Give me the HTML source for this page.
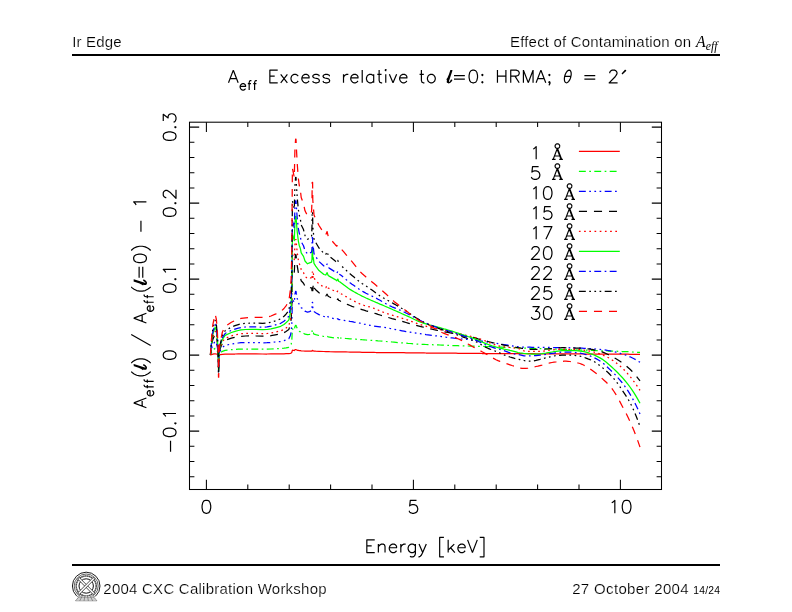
<!DOCTYPE html>
<html><head><meta charset="utf-8"><title>Ir Edge</title>
<style>
html,body{margin:0;padding:0;background:#fff;}
body{width:792px;height:612px;position:relative;overflow:hidden;font-family:"Liberation Sans",sans-serif;color:#000;}
.t{position:absolute;white-space:nowrap;line-height:1;}
.hl{position:absolute;left:72px;width:648px;height:2px;background:#000;}
</style></head><body>
<div class="hl" style="top:54.1px;"></div>
<div class="hl" style="top:564px;"></div>
<svg width="792" height="612" viewBox="0 0 792 612" style="position:absolute;left:0;top:0"><rect x="189.5" y="122.2" width="472.0" height="367.3" fill="none" stroke="#000" stroke-width="1.05"/>
<path d="M206.40 489.5V479.80M206.40 122.2V131.90M247.80 489.5V484.60M247.80 122.2V127.10M289.20 489.5V484.60M289.20 122.2V127.10M330.60 489.5V484.60M330.60 122.2V127.10M372.00 489.5V484.60M372.00 122.2V127.10M413.40 489.5V479.80M413.40 122.2V131.90M454.80 489.5V484.60M454.80 122.2V127.10M496.20 489.5V484.60M496.20 122.2V127.10M537.60 489.5V484.60M537.60 122.2V127.10M579.00 489.5V484.60M579.00 122.2V127.10M620.40 489.5V479.80M620.40 122.2V131.90M189.5 476.70H194.40M661.5 476.70H656.60M189.5 461.50H194.40M661.5 461.50H656.60M189.5 446.30H194.40M661.5 446.30H656.60M189.5 431.10H199.20M661.5 431.10H651.80M189.5 415.90H194.40M661.5 415.90H656.60M189.5 400.70H194.40M661.5 400.70H656.60M189.5 385.50H194.40M661.5 385.50H656.60M189.5 370.30H194.40M661.5 370.30H656.60M189.5 355.10H199.20M661.5 355.10H651.80M189.5 339.90H194.40M661.5 339.90H656.60M189.5 324.70H194.40M661.5 324.70H656.60M189.5 309.50H194.40M661.5 309.50H656.60M189.5 294.30H194.40M661.5 294.30H656.60M189.5 279.10H199.20M661.5 279.10H651.80M189.5 263.90H194.40M661.5 263.90H656.60M189.5 248.70H194.40M661.5 248.70H656.60M189.5 233.50H194.40M661.5 233.50H656.60M189.5 218.30H194.40M661.5 218.30H656.60M189.5 203.10H199.20M661.5 203.10H651.80M189.5 187.90H194.40M661.5 187.90H656.60M189.5 172.70H194.40M661.5 172.70H656.60M189.5 157.50H194.40M661.5 157.50H656.60M189.5 142.30H194.40M661.5 142.30H656.60M189.5 127.10H199.20M661.5 127.10H651.80" fill="none" stroke="#000" stroke-width="1.05"/>
<path transform="translate(206.40 513.30)" d="M-3.87 -3.25L-4.33 -5.42L-4.33 -7.58L-3.71 -10.53L-2.48 -12.38L-0.62 -13.00L0.62 -13.00L2.48 -12.38L3.71 -10.53L4.33 -7.58L4.33 -5.42L3.71 -2.63L2.48 -0.62L0.62 -0.00L-0.62 -0.00L-2.32 -0.62L-2.48 -0.62L-3.71 -2.32L-3.87 -3.25" fill="none" stroke="#000" stroke-width="1.2" stroke-linecap="butt" stroke-linejoin="round"/>
<path transform="translate(413.40 513.30)" d="M3.10 -13.00L-3.10 -13.00L-3.71 -7.43L-3.10 -8.05L-1.24 -8.67L0.62 -8.67L2.48 -8.05L3.71 -6.81L4.33 -4.95L4.33 -3.71L3.71 -1.86L2.32 -0.62L0.62 -0.00L-1.24 -0.00L-3.10 -0.62L-3.71 -1.24L-4.33 -2.48" fill="none" stroke="#000" stroke-width="1.2" stroke-linecap="butt" stroke-linejoin="round"/>
<path transform="translate(620.40 513.30)" d="M-5.57 -0.00L-5.57 -13.00L-7.43 -11.14L-8.67 -10.53M2.32 -3.25L1.86 -5.42L1.86 -7.58L2.48 -10.53L3.71 -12.38L5.57 -13.00L6.81 -13.00L8.67 -12.38L9.91 -10.53L10.53 -7.58L10.53 -5.42L9.91 -2.63L8.67 -0.62L6.81 -0.00L5.57 -0.00L3.87 -0.62L3.71 -0.62L2.48 -2.32L2.32 -3.25" fill="none" stroke="#000" stroke-width="1.2" stroke-linecap="butt" stroke-linejoin="round"/>
<path transform="translate(176.00 127.10) rotate(-90)" d="M-12.90 -3.19L-13.35 -5.31L-13.35 -7.44L-12.75 -10.32L-11.53 -12.14L-9.71 -12.75L-8.50 -12.75L-6.68 -12.14L-5.46 -10.32L-4.86 -7.44L-4.86 -5.31L-5.46 -2.58L-6.68 -0.61L-8.50 -0.00L-9.71 -0.00L-11.38 -0.61L-11.53 -0.61L-12.75 -2.28L-12.90 -3.19M0.61 -0.61L0.00 -1.21L-0.61 -0.61L0.00 -0.00L0.61 -0.61M6.07 -12.75L12.75 -12.75L9.11 -7.89L10.93 -7.89L12.14 -7.28L12.75 -6.68L13.35 -4.86L13.35 -3.64L12.75 -1.82L11.53 -0.61L9.71 -0.00L7.89 -0.00L6.22 -0.61L5.46 -1.21L4.86 -2.43" fill="none" stroke="#000" stroke-width="1.2" stroke-linecap="butt" stroke-linejoin="round"/>
<path transform="translate(176.00 203.10) rotate(-90)" d="M-12.90 -3.19L-13.35 -5.31L-13.35 -7.44L-12.75 -10.32L-11.53 -12.14L-9.71 -12.75L-8.50 -12.75L-6.68 -12.14L-5.46 -10.32L-4.86 -7.44L-4.86 -5.31L-5.46 -2.58L-6.68 -0.61L-8.50 -0.00L-9.71 -0.00L-11.38 -0.61L-11.53 -0.61L-12.75 -2.28L-12.90 -3.19M0.61 -0.61L0.00 -1.21L-0.61 -0.61L0.00 -0.00L0.61 -0.61M5.46 -9.71L5.46 -10.32L6.07 -11.53L6.68 -12.14L7.89 -12.75L10.32 -12.75L11.53 -12.14L12.14 -11.53L12.75 -10.32L12.75 -9.11L12.14 -7.89L10.93 -6.07L4.86 -0.00L13.35 -0.00" fill="none" stroke="#000" stroke-width="1.2" stroke-linecap="butt" stroke-linejoin="round"/>
<path transform="translate(176.00 279.10) rotate(-90)" d="M-12.90 -3.19L-13.35 -5.31L-13.35 -7.44L-12.75 -10.32L-11.53 -12.14L-9.71 -12.75L-8.50 -12.75L-6.68 -12.14L-5.46 -10.32L-4.86 -7.44L-4.86 -5.31L-5.46 -2.58L-6.68 -0.61L-8.50 -0.00L-9.71 -0.00L-11.38 -0.61L-11.53 -0.61L-12.75 -2.28L-12.90 -3.19M0.61 -0.61L0.00 -1.21L-0.61 -0.61L0.00 -0.00L0.61 -0.61M9.71 -0.00L9.71 -12.75L7.89 -10.93L6.68 -10.32" fill="none" stroke="#000" stroke-width="1.2" stroke-linecap="butt" stroke-linejoin="round"/>
<path transform="translate(176.00 355.10) rotate(-90)" d="M-3.79 -3.19L-4.25 -5.31L-4.25 -7.44L-3.64 -10.32L-2.43 -12.14L-0.61 -12.75L0.61 -12.75L2.43 -12.14L3.64 -10.32L4.25 -7.44L4.25 -5.31L3.64 -2.58L2.43 -0.61L0.61 -0.00L-0.61 -0.00L-2.28 -0.61L-2.43 -0.61L-3.64 -2.28L-3.79 -3.19" fill="none" stroke="#000" stroke-width="1.2" stroke-linecap="butt" stroke-linejoin="round"/>
<path transform="translate(176.00 431.10) rotate(-90)" d="M-20.64 -5.46L-9.71 -5.46M-5.01 -3.19L-5.46 -5.31L-5.46 -7.44L-4.86 -10.32L-3.64 -12.14L-1.82 -12.75L-0.61 -12.75L1.21 -12.14L2.43 -10.32L3.03 -7.44L3.03 -5.31L2.43 -2.58L1.21 -0.61L-0.61 -0.00L-1.82 -0.00L-3.49 -0.61L-3.64 -0.61L-4.86 -2.28L-5.01 -3.19M8.50 -0.61L7.89 -1.21L7.28 -0.61L7.89 -0.00L8.50 -0.61M17.60 -0.00L17.60 -12.75L15.78 -10.93L14.57 -10.32" fill="none" stroke="#000" stroke-width="1.2" stroke-linecap="butt" stroke-linejoin="round"/>
<path transform="translate(364.40 552.60)" d="M7.28 -6.68L2.43 -6.68L2.43 -12.75L10.32 -12.75M2.43 -6.68L2.43 -0.00L10.32 -0.00M20.64 -0.00L20.64 -6.07L20.03 -7.89L18.82 -8.50L17.00 -8.50L15.78 -7.89L13.96 -6.07L13.96 -0.00M13.96 -8.50L13.96 -6.07M32.17 -1.82L30.96 -0.61L29.74 -0.00L27.92 -0.00L26.71 -0.61L25.49 -1.97L24.89 -3.64L24.89 -4.86L25.49 -6.68L26.71 -7.89L27.92 -8.50L29.74 -8.50L30.96 -7.89L31.56 -7.28L32.17 -6.07L32.17 -4.86L24.89 -4.86M36.42 -8.50L36.42 -0.00M36.42 -5.01L37.03 -6.68L38.24 -7.89L39.45 -8.50L41.28 -8.50M50.99 -6.68L49.77 -7.89L48.56 -8.50L46.74 -8.50L45.52 -7.89L44.31 -6.68L43.70 -4.86L43.70 -3.64L44.31 -1.82L45.52 -0.61L46.74 -0.00L48.56 -0.00L49.77 -0.61L50.99 -1.82M50.99 -8.50L50.99 1.21L50.38 2.88L49.77 3.64L48.56 4.25L46.74 4.25L45.52 3.64M54.63 -8.50L58.27 -0.00L57.06 2.43L55.84 3.64L54.63 4.25L54.02 4.25M61.91 -8.50L58.27 -0.15M79.52 4.25L75.27 4.25L75.27 -15.17L79.52 -15.17M83.77 -2.43L83.77 -12.75M90.44 -0.00L86.19 -4.86L89.84 -8.50M86.19 -4.86L83.77 -2.43L83.77 -0.00M100.76 -1.82L99.55 -0.61L98.33 -0.00L96.51 -0.00L95.30 -0.61L94.09 -1.97L93.48 -3.64L93.48 -4.86L94.09 -6.68L95.30 -7.89L96.51 -8.50L98.33 -8.50L99.55 -7.89L100.16 -7.28L100.76 -6.07L100.76 -4.86L93.48 -4.86M103.19 -12.75L108.05 -0.00M112.90 -12.75L108.05 -0.15M115.33 4.25L119.58 4.25L119.58 -15.17L115.33 -15.17" fill="none" stroke="#000" stroke-width="1.2" stroke-linecap="butt" stroke-linejoin="round"/>
<path transform="translate(146.40 408.30) rotate(-90)" d="M0.61 -0.00L5.46 -12.75M5.46 -12.60L10.32 -0.00M8.50 -4.25L2.43 -4.25M17.75 5.92L16.84 6.83L15.93 7.28L14.57 7.28L13.66 6.83L12.75 5.80L12.29 4.55L12.29 3.64L12.75 2.28L13.66 1.37L14.57 0.91L15.93 0.91L16.84 1.37L17.30 1.82L17.75 2.73L17.75 3.64L12.29 3.64M21.40 7.28L21.40 0.91M23.67 -2.28L22.76 -2.28L21.85 -1.71L21.40 -0.46L21.40 0.91M20.03 0.91L23.22 0.91M26.86 7.28L26.86 0.91M29.14 -2.28L28.23 -2.28L27.32 -1.71L26.86 -0.46L26.86 0.91M25.49 0.91L28.68 0.91M36.72 -15.17L35.51 -13.96L34.30 -12.29L33.08 -9.71L32.47 -6.83L32.47 -4.10L33.08 -1.21L34.30 1.21L35.51 3.04L36.72 4.25M42.79 -12.75L39.15 -1.82L39.15 -0.61L40.37 -0.00L41.58 -0.61L42.19 -1.21L43.40 -3.04M40.21 -0.15L39.76 -0.61L39.76 -1.82L43.40 -12.75M40.82 -6.98L39.76 -4.86L38.54 -3.04M43.22 -12.75L39.58 -1.82L39.58 -0.61L40.79 -0.00L42.00 -0.61L42.61 -1.21L43.83 -3.04M40.64 -0.15L40.18 -0.61L40.18 -1.82L43.83 -12.75M45.22 -15.17L46.44 -13.96L47.65 -12.29L48.86 -9.71L49.47 -6.83L49.47 -4.10L48.86 -1.21L47.65 1.21L46.44 3.04L45.22 4.25M73.75 -15.17L62.82 4.25M85.28 -0.00L90.14 -12.75M90.14 -12.60L95.00 -0.00M93.17 -4.25L87.10 -4.25M102.43 5.92L101.52 6.83L100.61 7.28L99.24 7.28L98.33 6.83L97.42 5.80L96.97 4.55L96.97 3.64L97.42 2.28L98.33 1.37L99.24 0.91L100.61 0.91L101.52 1.37L101.98 1.82L102.43 2.73L102.43 3.64L96.97 3.64M106.07 7.28L106.07 0.91M108.35 -2.28L107.44 -2.28L106.53 -1.71L106.07 -0.46L106.07 0.91M104.71 0.91L107.89 0.91M111.54 7.28L111.54 0.91M113.81 -2.28L112.90 -2.28L111.99 -1.71L111.54 -0.46L111.54 0.91M110.17 0.91L113.36 0.91M121.40 -15.17L120.19 -13.96L118.97 -12.29L117.76 -9.71L117.15 -6.83L117.15 -4.10L117.76 -1.21L118.97 1.21L120.19 3.04L121.40 4.25M127.47 -12.75L123.83 -1.82L123.83 -0.61L125.04 -0.00L126.26 -0.61L126.86 -1.21L128.08 -3.04M124.89 -0.15L124.44 -0.61L124.44 -1.82L128.08 -12.75M125.50 -6.98L124.44 -4.86L123.22 -3.04M127.89 -12.75L124.25 -1.82L124.25 -0.61L125.47 -0.00L126.68 -0.61L127.29 -1.21L128.50 -3.04M125.32 -0.15L124.86 -0.61L124.86 -1.82L128.50 -12.75M130.50 -3.64L141.43 -3.64M141.43 -7.28L130.50 -7.28M146.14 -3.19L145.68 -5.31L145.68 -7.44L146.29 -10.32L147.50 -12.14L149.32 -12.75L150.54 -12.75L152.36 -12.14L153.57 -10.32L154.18 -7.44L154.18 -5.31L153.57 -2.58L152.36 -0.61L150.54 -0.00L149.32 -0.00L147.65 -0.61L147.50 -0.61L146.29 -2.28L146.14 -3.19M157.82 -15.17L159.03 -13.96L160.25 -12.29L161.46 -9.71L162.07 -6.83L162.07 -4.10L161.46 -1.21L160.25 1.21L159.03 3.04L157.82 4.25M176.64 -5.46L187.56 -5.46M206.38 -0.00L206.38 -12.75L204.56 -10.93L203.34 -10.32" fill="none" stroke="#000" stroke-width="1.2" stroke-linecap="butt" stroke-linejoin="round"/>
<path transform="translate(227.90 82.80)" d="M0.60 -0.00L5.43 -12.68M5.43 -12.53L10.26 -0.00M8.45 -4.23L2.41 -4.23M17.66 5.89L16.75 6.79L15.85 7.24L14.49 7.24L13.58 6.79L12.68 5.77L12.22 4.53L12.22 3.62L12.68 2.26L13.58 1.36L14.49 0.91L15.85 0.91L16.75 1.36L17.21 1.81L17.66 2.72L17.66 3.62L12.22 3.62M21.28 7.24L21.28 0.91M23.54 -2.26L22.64 -2.26L21.73 -1.70L21.28 -0.45L21.28 0.91M19.92 0.91L23.09 0.91M26.71 7.24L26.71 0.91M28.98 -2.26L28.07 -2.26L27.17 -1.70L26.71 -0.45L26.71 0.91M25.36 0.91L28.52 0.91M46.79 -6.64L41.96 -6.64L41.96 -12.68L49.81 -12.68M41.96 -6.64L41.96 -0.00L49.81 -0.00M59.46 -0.00L52.82 -8.45M56.14 -4.23L52.82 -0.00M59.46 -8.45L56.14 -4.23M70.33 -1.81L69.12 -0.60L67.92 -0.00L66.11 -0.00L64.90 -0.60L63.69 -1.81L63.09 -3.62L63.09 -4.83L63.69 -6.64L64.90 -7.85L66.11 -8.45L67.92 -8.45L69.12 -7.85L70.33 -6.64M81.20 -1.81L79.99 -0.60L78.78 -0.00L76.97 -0.00L75.76 -0.60L74.56 -1.96L73.95 -3.62L73.95 -4.83L74.56 -6.64L75.76 -7.85L76.97 -8.45L78.78 -8.45L79.99 -7.85L80.59 -7.24L81.20 -6.04L81.20 -4.83L73.95 -4.83M84.82 -1.81L85.42 -0.60L87.23 -0.00L89.05 -0.00L90.86 -0.60L91.46 -1.81L91.46 -2.41L90.86 -3.62L89.65 -4.23L86.63 -4.83L85.42 -5.43L84.82 -6.64L85.57 -7.85L87.23 -8.45L89.05 -8.45L90.86 -7.85L91.46 -6.64M95.08 -1.81L95.69 -0.60L97.50 -0.00L99.31 -0.00L101.12 -0.60L101.72 -1.81L101.72 -2.41L101.12 -3.62L99.91 -4.23L96.89 -4.83L95.69 -5.43L95.08 -6.64L95.84 -7.85L97.50 -8.45L99.31 -8.45L101.12 -7.85L101.72 -6.64M115.61 -8.45L115.61 -0.00M115.61 -4.98L116.21 -6.64L117.42 -7.85L118.63 -8.45L120.44 -8.45M130.10 -1.81L128.89 -0.60L127.68 -0.00L125.87 -0.00L124.66 -0.60L123.46 -1.96L122.85 -3.62L122.85 -4.83L123.46 -6.64L124.66 -7.85L125.87 -8.45L127.68 -8.45L128.89 -7.85L129.49 -7.24L130.10 -6.04L130.10 -4.83L122.85 -4.83M134.32 -12.68L134.32 -0.00M145.79 -6.64L144.59 -7.85L143.38 -8.45L141.57 -8.45L140.36 -7.85L139.15 -6.64L138.55 -4.83L138.55 -3.62L139.15 -1.81L140.36 -0.60L141.57 -0.00L143.38 -0.00L144.59 -0.60L145.79 -1.81M145.79 -0.00L145.79 -8.45M151.23 -8.45L151.23 -2.41L151.83 -0.60L153.04 -0.00L154.25 -0.00M149.42 -8.45L153.64 -8.45M151.23 -12.68L151.23 -8.45M157.87 -8.45L157.87 -0.00M158.47 -12.68L158.47 -12.68L157.87 -13.28L157.26 -12.68L157.87 -12.07L158.32 -12.53M161.49 -8.45L165.11 -0.00M168.73 -8.45L165.11 -0.15M179.00 -1.81L177.79 -0.60L176.58 -0.00L174.77 -0.00L173.56 -0.60L172.36 -1.96L171.75 -3.62L171.75 -4.83L172.36 -6.64L173.56 -7.85L174.77 -8.45L176.58 -8.45L177.79 -7.85L178.39 -7.24L179.00 -6.04L179.00 -4.83L171.75 -4.83M193.49 -8.45L193.49 -2.41L194.09 -0.60L195.30 -0.00L196.50 -0.00M191.67 -8.45L195.90 -8.45M193.49 -12.68L193.49 -8.45M206.01 -7.40L205.56 -7.85L204.35 -8.45L202.54 -8.45L201.33 -7.85L200.13 -6.64L199.52 -4.83L199.52 -3.62L200.13 -1.81L201.33 -0.60L202.54 -0.00L204.35 -0.00L205.56 -0.60L206.77 -1.81L207.37 -3.62L207.37 -4.83L206.77 -6.49L206.01 -7.40M223.07 -12.68L219.44 -1.81L219.44 -0.60L220.65 -0.00L221.86 -0.60L222.46 -1.21L223.67 -3.02M220.50 -0.15L220.05 -0.60L220.05 -1.81L223.67 -12.68M221.11 -6.94L220.05 -4.83L218.84 -3.02M223.49 -12.68L219.87 -1.81L219.87 -0.60L221.07 -0.00L222.28 -0.60L222.89 -1.21L224.09 -3.02M220.92 -0.15L220.47 -0.60L220.47 -1.81L224.09 -12.68M226.09 -3.62L236.95 -3.62M236.95 -7.24L226.09 -7.24M241.63 -3.17L241.18 -5.28L241.18 -7.40L241.78 -10.26L242.99 -12.07L244.80 -12.68L246.01 -12.68L247.82 -12.07L249.03 -10.26L249.63 -7.40L249.63 -5.28L249.03 -2.57L247.82 -0.60L246.01 -0.00L244.80 -0.00L243.14 -0.60L242.99 -0.60L241.78 -2.26L241.63 -3.17M254.76 -7.55L255.06 -7.85L254.46 -8.45L253.86 -7.85L254.46 -7.24L254.76 -7.55M254.91 -0.75L254.46 -1.21L253.86 -0.60L254.46 -0.00L255.06 -0.60L254.91 -0.75M278.00 -6.64L269.55 -6.64L269.55 -12.68M278.00 -0.00L278.00 -12.68M269.55 -0.00L269.55 -6.64M291.29 -0.00L287.06 -6.64L282.83 -6.64L282.83 -12.68L288.27 -12.68L290.08 -12.07L290.68 -11.47L291.29 -10.26L291.29 -9.06L290.68 -7.85L289.93 -7.24L288.27 -6.64L287.06 -6.64M282.83 -0.00L282.83 -6.64M305.17 -12.68L305.17 -0.00M295.51 -0.00L295.51 -12.68M305.17 -12.53L300.34 -0.00M295.51 -12.53L300.34 -0.15M308.19 -0.00L313.02 -12.68M313.02 -12.53L317.85 -0.00M316.04 -4.23L310.00 -4.23M320.87 2.41L321.47 1.81L322.07 0.60L322.07 -0.60L321.47 -1.21L320.87 -0.60L321.47 -0.00L322.07 -0.60M321.77 -7.55L322.07 -7.85L321.47 -8.45L320.87 -7.85L321.47 -7.24L321.77 -7.55M343.02 -6.34L343.30 -8.30L343.24 -10.06L342.86 -11.47L342.18 -12.37L341.28 -12.68L340.24 -12.37L339.17 -11.47L338.16 -10.06L337.33 -8.30L336.74 -6.34L336.47 -4.38L336.52 -2.61L336.91 -1.21L337.59 -0.31L338.49 -0.00L339.53 -0.31L340.60 -1.21L341.60 -2.61L342.44 -4.38L343.02 -6.34M336.86 -6.34L342.90 -6.34M356.48 -3.62L367.35 -3.62M367.35 -7.24L356.48 -7.24M381.84 -9.66L381.84 -10.26L382.44 -11.47L383.05 -12.07L384.26 -12.68L386.67 -12.68L387.88 -12.07L388.48 -11.47L389.08 -10.26L389.08 -9.06L388.48 -7.85L387.27 -6.04L381.24 -0.00L389.69 -0.00M397.66 -12.80L394.10 -8.81M398.14 -12.38L394.10 -8.81" fill="none" stroke="#000" stroke-width="1.2" stroke-linecap="butt" stroke-linejoin="round"/>
<path transform="translate(529.50 159.35)" d="M6.68 -0.00L6.68 -12.75L4.86 -10.93L3.64 -10.32M27.92 -11.23L23.67 -0.00M27.92 -11.23L32.17 -0.00M27.92 -9.59L31.56 -0.00M24.89 -3.34L30.35 -3.34M22.46 -0.00L26.10 -0.00M29.74 -0.00L33.38 -0.00M30.29 -13.23L30.05 -14.26L29.40 -15.08L28.45 -15.54L27.40 -15.54L26.45 -15.08L25.79 -14.26L25.55 -13.23L25.79 -12.21L26.45 -11.38L27.40 -10.92L28.45 -10.92L29.40 -11.38L30.05 -12.21L30.29 -13.23" fill="none" stroke="#000" stroke-width="1.2" stroke-linecap="butt" stroke-linejoin="round"/>
<path d="M578.9 151.35H619.8" stroke="#f00" stroke-width="1.15" fill="none"/>
<path transform="translate(529.50 179.35)" d="M9.11 -12.75L3.04 -12.75L2.43 -7.28L3.04 -7.89L4.86 -8.50L6.68 -8.50L8.50 -7.89L9.71 -6.68L10.32 -4.86L10.32 -3.64L9.71 -1.82L8.35 -0.61L6.68 -0.00L4.86 -0.00L3.04 -0.61L2.43 -1.21L1.82 -2.43M27.92 -11.23L23.67 -0.00M27.92 -11.23L32.17 -0.00M27.92 -9.59L31.56 -0.00M24.89 -3.34L30.35 -3.34M22.46 -0.00L26.10 -0.00M29.74 -0.00L33.38 -0.00M30.29 -13.23L30.05 -14.26L29.40 -15.08L28.45 -15.54L27.40 -15.54L26.45 -15.08L25.79 -14.26L25.55 -13.23L25.79 -12.21L26.45 -11.38L27.40 -10.92L28.45 -10.92L29.40 -11.38L30.05 -12.21L30.29 -13.23" fill="none" stroke="#000" stroke-width="1.2" stroke-linecap="butt" stroke-linejoin="round"/>
<path d="M578.9 171.35H617.0" stroke="#0f0" stroke-width="1.15" fill="none" stroke-dasharray="6.9 3.45 1.7 3.35"/>
<path transform="translate(529.50 199.35)" d="M6.68 -0.00L6.68 -12.75L4.86 -10.93L3.64 -10.32M14.42 -3.19L13.96 -5.31L13.96 -7.44L14.57 -10.32L15.78 -12.14L17.60 -12.75L18.82 -12.75L20.64 -12.14L21.85 -10.32L22.46 -7.44L22.46 -5.31L21.85 -2.58L20.64 -0.61L18.82 -0.00L17.60 -0.00L15.93 -0.61L15.78 -0.61L14.57 -2.28L14.42 -3.19M40.06 -11.23L35.81 -0.00M40.06 -11.23L44.31 -0.00M40.06 -9.59L43.70 -0.00M37.03 -3.34L42.49 -3.34M34.60 -0.00L38.24 -0.00M41.88 -0.00L45.53 -0.00M42.43 -13.23L42.19 -14.26L41.54 -15.08L40.59 -15.54L39.54 -15.54L38.59 -15.08L37.93 -14.26L37.69 -13.23L37.93 -12.21L38.59 -11.38L39.54 -10.92L40.59 -10.92L41.54 -11.38L42.19 -12.21L42.43 -13.23" fill="none" stroke="#000" stroke-width="1.2" stroke-linecap="butt" stroke-linejoin="round"/>
<path d="M578.9 191.35H617.0" stroke="#00f" stroke-width="1.15" fill="none" stroke-dasharray="6.9 3.45 1.7 3.45 1.7 3.45 1.7 3.45"/>
<path transform="translate(529.50 219.35)" d="M6.68 -0.00L6.68 -12.75L4.86 -10.93L3.64 -10.32M21.25 -12.75L15.18 -12.75L14.57 -7.28L15.18 -7.89L17.00 -8.50L18.82 -8.50L20.64 -7.89L21.85 -6.68L22.46 -4.86L22.46 -3.64L21.85 -1.82L20.49 -0.61L18.82 -0.00L17.00 -0.00L15.18 -0.61L14.57 -1.21L13.96 -2.43M40.06 -11.23L35.81 -0.00M40.06 -11.23L44.31 -0.00M40.06 -9.59L43.70 -0.00M37.03 -3.34L42.49 -3.34M34.60 -0.00L38.24 -0.00M41.88 -0.00L45.53 -0.00M42.43 -13.23L42.19 -14.26L41.54 -15.08L40.59 -15.54L39.54 -15.54L38.59 -15.08L37.93 -14.26L37.69 -13.23L37.93 -12.21L38.59 -11.38L39.54 -10.92L40.59 -10.92L41.54 -11.38L42.19 -12.21L42.43 -13.23" fill="none" stroke="#000" stroke-width="1.2" stroke-linecap="butt" stroke-linejoin="round"/>
<path d="M578.9 211.35H617.0" stroke="#000" stroke-width="1.15" fill="none" stroke-dasharray="8.1 6.95"/>
<path transform="translate(529.50 239.35)" d="M6.68 -0.00L6.68 -12.75L4.86 -10.93L3.64 -10.32M13.96 -12.75L22.46 -12.75L16.39 -0.00M40.06 -11.23L35.81 -0.00M40.06 -11.23L44.31 -0.00M40.06 -9.59L43.70 -0.00M37.03 -3.34L42.49 -3.34M34.60 -0.00L38.24 -0.00M41.88 -0.00L45.53 -0.00M42.43 -13.23L42.19 -14.26L41.54 -15.08L40.59 -15.54L39.54 -15.54L38.59 -15.08L37.93 -14.26L37.69 -13.23L37.93 -12.21L38.59 -11.38L39.54 -10.92L40.59 -10.92L41.54 -11.38L42.19 -12.21L42.43 -13.23" fill="none" stroke="#000" stroke-width="1.2" stroke-linecap="butt" stroke-linejoin="round"/>
<path d="M578.9 231.35H617.0" stroke="#f00" stroke-width="1.15" fill="none" stroke-dasharray="1.7 3.5"/>
<path transform="translate(529.50 259.35)" d="M2.43 -9.71L2.43 -10.32L3.04 -11.53L3.64 -12.14L4.86 -12.75L7.28 -12.75L8.50 -12.14L9.11 -11.53L9.71 -10.32L9.71 -9.11L9.11 -7.89L7.89 -6.07L1.82 -0.00L10.32 -0.00M14.42 -3.19L13.96 -5.31L13.96 -7.44L14.57 -10.32L15.78 -12.14L17.60 -12.75L18.82 -12.75L20.64 -12.14L21.85 -10.32L22.46 -7.44L22.46 -5.31L21.85 -2.58L20.64 -0.61L18.82 -0.00L17.60 -0.00L15.93 -0.61L15.78 -0.61L14.57 -2.28L14.42 -3.19M40.06 -11.23L35.81 -0.00M40.06 -11.23L44.31 -0.00M40.06 -9.59L43.70 -0.00M37.03 -3.34L42.49 -3.34M34.60 -0.00L38.24 -0.00M41.88 -0.00L45.53 -0.00M42.43 -13.23L42.19 -14.26L41.54 -15.08L40.59 -15.54L39.54 -15.54L38.59 -15.08L37.93 -14.26L37.69 -13.23L37.93 -12.21L38.59 -11.38L39.54 -10.92L40.59 -10.92L41.54 -11.38L42.19 -12.21L42.43 -13.23" fill="none" stroke="#000" stroke-width="1.2" stroke-linecap="butt" stroke-linejoin="round"/>
<path d="M578.9 251.35H619.8" stroke="#0f0" stroke-width="1.15" fill="none"/>
<path transform="translate(529.50 279.35)" d="M2.43 -9.71L2.43 -10.32L3.04 -11.53L3.64 -12.14L4.86 -12.75L7.28 -12.75L8.50 -12.14L9.11 -11.53L9.71 -10.32L9.71 -9.11L9.11 -7.89L7.89 -6.07L1.82 -0.00L10.32 -0.00M14.57 -9.71L14.57 -10.32L15.18 -11.53L15.78 -12.14L17.00 -12.75L19.42 -12.75L20.64 -12.14L21.25 -11.53L21.85 -10.32L21.85 -9.11L21.25 -7.89L20.03 -6.07L13.96 -0.00L22.46 -0.00M40.06 -11.23L35.81 -0.00M40.06 -11.23L44.31 -0.00M40.06 -9.59L43.70 -0.00M37.03 -3.34L42.49 -3.34M34.60 -0.00L38.24 -0.00M41.88 -0.00L45.53 -0.00M42.43 -13.23L42.19 -14.26L41.54 -15.08L40.59 -15.54L39.54 -15.54L38.59 -15.08L37.93 -14.26L37.69 -13.23L37.93 -12.21L38.59 -11.38L39.54 -10.92L40.59 -10.92L41.54 -11.38L42.19 -12.21L42.43 -13.23" fill="none" stroke="#000" stroke-width="1.2" stroke-linecap="butt" stroke-linejoin="round"/>
<path d="M578.9 271.35H617.0" stroke="#00f" stroke-width="1.15" fill="none" stroke-dasharray="6.9 3.45 1.7 3.35"/>
<path transform="translate(529.50 299.35)" d="M2.43 -9.71L2.43 -10.32L3.04 -11.53L3.64 -12.14L4.86 -12.75L7.28 -12.75L8.50 -12.14L9.11 -11.53L9.71 -10.32L9.71 -9.11L9.11 -7.89L7.89 -6.07L1.82 -0.00L10.32 -0.00M21.25 -12.75L15.18 -12.75L14.57 -7.28L15.18 -7.89L17.00 -8.50L18.82 -8.50L20.64 -7.89L21.85 -6.68L22.46 -4.86L22.46 -3.64L21.85 -1.82L20.49 -0.61L18.82 -0.00L17.00 -0.00L15.18 -0.61L14.57 -1.21L13.96 -2.43M40.06 -11.23L35.81 -0.00M40.06 -11.23L44.31 -0.00M40.06 -9.59L43.70 -0.00M37.03 -3.34L42.49 -3.34M34.60 -0.00L38.24 -0.00M41.88 -0.00L45.53 -0.00M42.43 -13.23L42.19 -14.26L41.54 -15.08L40.59 -15.54L39.54 -15.54L38.59 -15.08L37.93 -14.26L37.69 -13.23L37.93 -12.21L38.59 -11.38L39.54 -10.92L40.59 -10.92L41.54 -11.38L42.19 -12.21L42.43 -13.23" fill="none" stroke="#000" stroke-width="1.2" stroke-linecap="butt" stroke-linejoin="round"/>
<path d="M578.9 291.35H617.0" stroke="#000" stroke-width="1.15" fill="none" stroke-dasharray="6.9 3.45 1.7 3.45 1.7 3.45 1.7 3.45"/>
<path transform="translate(529.50 319.35)" d="M3.04 -12.75L9.71 -12.75L6.07 -7.89L7.89 -7.89L9.11 -7.28L9.71 -6.68L10.32 -4.86L10.32 -3.64L9.71 -1.82L8.50 -0.61L6.68 -0.00L4.86 -0.00L3.19 -0.61L2.43 -1.21L1.82 -2.43M14.42 -3.19L13.96 -5.31L13.96 -7.44L14.57 -10.32L15.78 -12.14L17.60 -12.75L18.82 -12.75L20.64 -12.14L21.85 -10.32L22.46 -7.44L22.46 -5.31L21.85 -2.58L20.64 -0.61L18.82 -0.00L17.60 -0.00L15.93 -0.61L15.78 -0.61L14.57 -2.28L14.42 -3.19M40.06 -11.23L35.81 -0.00M40.06 -11.23L44.31 -0.00M40.06 -9.59L43.70 -0.00M37.03 -3.34L42.49 -3.34M34.60 -0.00L38.24 -0.00M41.88 -0.00L45.53 -0.00M42.43 -13.23L42.19 -14.26L41.54 -15.08L40.59 -15.54L39.54 -15.54L38.59 -15.08L37.93 -14.26L37.69 -13.23L37.93 -12.21L38.59 -11.38L39.54 -10.92L40.59 -10.92L41.54 -11.38L42.19 -12.21L42.43 -13.23" fill="none" stroke="#000" stroke-width="1.2" stroke-linecap="butt" stroke-linejoin="round"/>
<path d="M578.9 311.35H617.0" stroke="#f00" stroke-width="1.15" fill="none" stroke-dasharray="8.1 6.95"/>
<path d="M210.4 355.1L211.2 354.7L212.2 354.3L212.9 354.1L214.1 353.9L215.2 353.8L216.4 354.0L217.4 354.4L218.2 355.0L218.5 355.8L218.7 355.8L219.0 355.0L219.6 354.8L220.3 354.7L222.4 354.4L225.1 354.2L231.4 354.0L235.0 354.0L238.3 353.9L241.0 353.9L245.6 353.9L251.0 353.9L256.0 353.9L262.6 354.0L267.0 354.0L271.0 353.9L275.3 353.9L280.7 353.9L284.0 353.8L286.0 353.7L288.8 353.6L290.4 353.3L291.2 353.0L291.8 352.3L292.4 350.2L293.2 350.3L294.3 350.5L294.9 349.8L295.6 349.5L296.0 349.5L296.3 349.7L297.2 350.1L297.7 350.3L298.3 350.4L299.2 350.6L300.4 350.7L301.2 350.9L303.5 351.0L305.0 351.1L307.5 351.2L309.5 351.1L311.6 351.1L312.0 350.9L312.2 350.4L312.6 350.4L312.8 350.9L313.3 350.8L314.0 351.1L315.7 351.2L319.0 351.3L323.9 351.5L325.8 351.6L327.1 351.5L328.2 351.6L329.6 351.7L335.3 351.9L336.8 351.9L337.8 351.8L338.8 351.8L340.0 351.8L342.0 351.8L344.0 351.9L346.0 351.9L348.0 352.0L350.0 352.1L352.0 352.1L354.0 352.1L356.0 352.2L358.0 352.2L360.0 352.2L362.0 352.3L364.0 352.3L366.0 352.3L368.0 352.4L370.0 352.4L372.0 352.4L374.0 352.4L376.0 352.5L378.0 352.5L380.0 352.5L382.0 352.5L384.0 352.6L386.0 352.6L388.0 352.6L390.0 352.6L392.0 352.6L394.0 352.7L396.0 352.7L398.0 352.7L400.0 352.7L402.0 352.7L404.0 352.7L406.0 352.8L408.0 352.8L410.0 352.8L412.0 352.8L414.0 352.8L416.0 352.9L418.0 352.9L420.0 352.9L422.0 352.9L424.0 352.9L426.0 353.0L428.0 353.0L430.0 353.0L432.0 353.0L434.0 353.0L436.0 353.1L438.0 353.1L440.0 353.1L442.0 353.1L444.0 353.1L446.0 353.1L448.0 353.2L450.0 353.2L452.0 353.2L454.0 353.2L456.0 353.2L458.0 353.3L460.0 353.3L462.0 353.3L464.0 353.3L466.0 353.3L468.0 353.3L470.0 353.4L472.0 353.4L474.0 353.4L476.0 353.4L478.0 353.4L480.0 353.4L482.0 353.5L484.0 353.5L486.0 353.5L488.0 353.5L490.0 353.5L492.0 353.5L494.0 353.5L496.0 353.6L498.0 353.6L500.0 353.6L502.0 353.6L504.0 353.6L506.0 353.6L508.0 353.6L510.0 353.6L512.0 353.6L514.0 353.7L516.0 353.7L518.0 353.7L520.0 353.7L522.0 353.7L524.0 353.7L526.0 353.7L528.0 353.7L530.0 353.7L532.0 353.7L534.0 353.7L536.0 353.8L538.0 353.8L540.0 353.8L542.0 353.8L544.0 353.8L546.0 353.8L548.0 353.8L550.0 353.8L552.0 353.8L554.0 353.8L556.0 353.8L558.0 353.8L560.0 353.8L562.0 353.9L564.0 353.9L566.0 353.9L568.0 353.9L570.0 353.9L572.0 353.9L574.0 353.9L576.0 353.9L578.0 353.9L580.0 353.9L582.0 353.9L584.0 354.0L586.0 354.0L588.0 354.0L590.0 354.0L592.0 354.0L594.0 354.0L596.0 354.0L598.0 354.0L600.0 354.0L602.0 354.0L604.0 354.1L606.0 354.1L608.0 354.1L610.0 354.1L612.0 354.1L614.0 354.1L616.0 354.1L618.0 354.2L620.0 354.2L622.0 354.2L624.0 354.2L626.0 354.2L628.0 354.2L630.0 354.3L632.0 354.3L634.0 354.3L636.0 354.3L638.0 354.3L640.0 354.3" stroke="#f00" stroke-width="1.25" fill="none" stroke-linejoin="round"/>
<path d="M210.4 355.1L211.2 353.1L212.2 350.8L212.9 350.0L214.1 349.1L215.2 348.4L216.4 349.2L217.4 351.3L218.2 354.6L218.5 358.7L218.7 358.7L219.0 354.8L219.6 353.5L220.3 352.9L222.4 351.3L225.1 350.4L231.4 349.7L235.0 349.4L238.3 349.2L241.0 349.1L245.6 349.0L251.0 349.0L256.0 349.0L262.6 349.1L267.0 349.1L271.0 349.0L275.3 348.8L280.7 348.6L284.0 348.2L286.0 347.9L288.8 347.4L290.4 345.8L291.2 344.2L291.8 340.3L292.4 328.8L293.2 329.5L294.3 330.4L294.9 326.7L295.6 325.3L296.0 325.3L296.3 326.2L297.2 328.4L297.7 329.3L298.3 330.3L299.2 331.2L300.4 331.9L301.2 332.7L303.5 333.3L305.0 334.2L307.5 334.7L309.5 334.4L311.6 333.9L312.0 332.7L312.2 330.2L312.6 330.2L312.8 332.7L313.3 332.9L314.0 334.2L315.7 334.7L319.0 335.5L323.9 336.5L325.8 336.7L327.1 336.2L328.2 336.9L329.6 337.1L335.3 338.0L336.8 338.1L337.8 337.6L338.8 338.1L340.0 338.0" stroke="#0f0" stroke-width="1.25" fill="none" stroke-linejoin="round" stroke-dasharray="6.9 3.45 1.7 3.35" stroke-dashoffset="3.52"/>
<path d="M340.0 338.0L342.0 338.2L344.0 338.3L346.0 338.5L348.0 338.6L350.0 338.8L352.0 338.9L354.0 339.1L356.0 339.2L358.0 339.4L360.0 339.5L362.0 339.7L364.0 339.8L366.0 340.0L368.0 340.1L370.0 340.3L372.0 340.4L374.0 340.6L376.0 340.7L378.0 340.9L380.0 341.0L382.0 341.2L384.0 341.4L386.0 341.5L388.0 341.7L390.0 341.9L392.0 342.0L394.0 342.2L396.0 342.4L398.0 342.6L400.0 342.7L402.0 342.9L404.0 343.0L406.0 343.2L408.0 343.4L410.0 343.5L412.0 343.7L414.0 343.9L416.0 344.0L418.0 344.1L420.0 344.2L422.0 344.3L424.0 344.4L426.0 344.5L428.0 344.6L430.0 344.6L432.0 344.7L434.0 344.8L436.0 344.8L438.0 344.9L440.0 345.0L442.0 345.1L444.0 345.1L446.0 345.2L448.0 345.3L450.0 345.4L452.0 345.5L454.0 345.5L456.0 345.6L458.0 345.7L460.0 345.8L462.0 345.8L464.0 345.9L466.0 345.9L468.0 346.0L470.0 346.1L472.0 346.1L474.0 346.2L476.0 346.2L478.0 346.3L480.0 346.4L482.0 346.4L484.0 346.5L486.0 346.6L488.0 346.7L490.0 346.7L492.0 346.8L494.0 346.9L496.0 347.0L498.0 347.0L500.0 347.1L502.0 347.2L504.0 347.3L506.0 347.3L508.0 347.4L510.0 347.5L512.0 347.6L514.0 347.7L516.0 347.7L518.0 347.8L520.0 347.9L522.0 348.0L524.0 348.0L526.0 348.1L528.0 348.2L530.0 348.3L532.0 348.4L534.0 348.4L536.0 348.5L538.0 348.6L540.0 348.7L542.0 348.7L544.0 348.8L546.0 348.9L548.0 348.9L550.0 349.0L552.0 349.1L554.0 349.2L556.0 349.2L558.0 349.3L560.0 349.4L562.0 349.4L564.0 349.5L566.0 349.6L568.0 349.6L570.0 349.7L572.0 349.8L574.0 349.8L576.0 349.9L578.0 350.0L580.0 350.0L582.0 350.1L584.0 350.2L586.0 350.2L588.0 350.3L590.0 350.4L592.0 350.4L594.0 350.5L596.0 350.6L598.0 350.6L600.0 350.7L602.0 350.8L604.0 350.8L606.0 350.9L608.0 351.0L610.0 351.0L612.0 351.1L614.0 351.1L616.0 351.2L618.0 351.3L620.0 351.4L622.0 351.5L624.0 351.5L626.0 351.6L628.0 351.7L630.0 351.8L632.0 352.0L634.0 352.1L636.0 352.2L638.0 352.3L640.0 352.4" stroke="#0f0" stroke-width="1.25" fill="none" stroke-linejoin="round" stroke-dasharray="6.9 3.45 1.7 3.35" stroke-dashoffset="10.53"/>
<path d="M210.4 355.0L211.2 351.0L212.2 346.3L212.9 344.7L214.1 342.8L215.2 341.3L216.4 343.1L217.4 347.3L218.2 354.1L218.5 362.6L218.7 362.6L219.0 354.4L219.6 351.9L220.3 350.6L222.4 347.3L225.1 345.4L231.4 344.0L235.0 343.4L238.3 343.0L241.0 342.7L245.6 342.5L251.0 342.5L256.0 342.6L262.6 342.8L267.0 342.7L271.0 342.5L275.3 342.0L280.7 341.5L284.0 340.7L286.0 340.0L288.8 338.8L290.4 335.4L291.2 331.9L291.8 323.6L292.4 299.3L293.2 300.6L294.3 302.4L294.9 294.4L295.6 291.4L296.0 291.4L296.3 293.4L297.2 298.2L297.7 300.2L298.3 302.4L299.2 304.3L300.4 305.8L301.2 307.7L303.5 309.1L305.0 311.1L307.5 312.2L309.5 311.6L311.6 310.7L312.0 307.7L312.2 302.3L312.6 302.3L312.8 307.6L313.3 308.8L314.0 311.6L315.7 312.7L319.0 314.6L323.9 316.5L325.8 316.8L327.1 315.6L328.2 317.0L329.6 317.5L335.3 319.0L336.8 319.5L337.8 318.6L338.8 319.6L340.0 319.7" stroke="#00f" stroke-width="1.25" fill="none" stroke-linejoin="round" stroke-dasharray="6.9 3.45 1.7 3.45 1.7 3.45 1.7 3.45" stroke-dashoffset="8.43"/>
<path d="M340.0 319.7L342.0 320.0L344.0 320.3L346.0 320.7L348.0 321.0L350.0 321.4L352.0 321.7L354.0 322.1L356.0 322.4L358.0 322.8L360.0 323.2L362.0 323.6L364.0 324.1L366.0 324.5L368.0 324.9L370.0 325.3L372.0 325.6L374.0 326.0L376.0 326.3L378.0 326.6L380.0 326.9L382.0 327.1L384.0 327.4L386.0 327.7L388.0 328.0L390.0 328.4L392.0 328.7L394.0 329.2L396.0 329.6L398.0 330.0L400.0 330.4L402.0 330.8L404.0 331.2L406.0 331.6L408.0 331.9L410.0 332.2L412.0 332.5L414.0 332.8L416.0 333.1L418.0 333.4L420.0 333.7L422.0 334.0L424.0 334.3L426.0 334.6L428.0 334.8L430.0 335.1L432.0 335.4L434.0 335.6L436.0 335.9L438.0 336.1L440.0 336.4L442.0 336.7L444.0 336.9L446.0 337.2L448.0 337.4L450.0 337.7L452.0 337.9L454.0 338.2L456.0 338.4L458.0 338.6L460.0 338.8L462.0 339.0L464.0 339.2L466.0 339.3L468.0 339.5L470.0 339.7L472.0 339.9L474.0 340.1L476.0 340.3L478.0 340.6L480.0 340.9L482.0 341.2L484.0 341.5L486.0 341.8L488.0 342.1L490.0 342.5L492.0 342.8L494.0 343.1L496.0 343.4L498.0 343.7L500.0 344.0L502.0 344.3L504.0 344.6L506.0 344.9L508.0 345.2L510.0 345.5L512.0 345.8L514.0 346.1L516.0 346.4L518.0 346.7L520.0 346.9L522.0 347.0L524.0 347.1L526.0 347.1L528.0 347.2L530.0 347.2L532.0 347.3L534.0 347.3L536.0 347.3L538.0 347.3L540.0 347.4L542.0 347.4L544.0 347.4L546.0 347.4L548.0 347.4L550.0 347.5L552.0 347.5L554.0 347.5L556.0 347.5L558.0 347.6L560.0 347.6L562.0 347.6L564.0 347.7L566.0 347.7L568.0 347.7L570.0 347.8L572.0 347.8L574.0 347.9L576.0 348.0L578.0 348.0L580.0 348.1L582.0 348.2L584.0 348.3L586.0 348.4L588.0 348.5L590.0 348.6L592.0 348.7L594.0 348.9L596.0 349.0L598.0 349.2L600.0 349.4L602.0 349.6L604.0 349.8L606.0 350.1L608.0 350.5L610.0 350.9L612.0 351.3L614.0 351.7L616.0 352.2L618.0 352.7L620.0 353.3L622.0 353.9L624.0 354.5L626.0 355.2L628.0 356.0L630.0 356.8L632.0 357.7L634.0 358.7L636.0 359.8L638.0 361.0L640.0 362.3" stroke="#00f" stroke-width="1.25" fill="none" stroke-linejoin="round" stroke-dasharray="6.9 3.45 1.7 3.45 1.7 3.45 1.7 3.45" stroke-dashoffset="16.92"/>
<path d="M210.4 355.0L211.2 348.9L212.2 341.7L212.9 339.3L214.1 336.4L215.2 334.2L216.4 336.8L217.4 343.2L218.2 353.5L218.5 366.4L218.7 366.4L219.0 354.0L219.6 350.2L220.3 348.2L222.4 343.2L225.1 340.4L231.4 338.2L235.0 337.3L238.3 336.7L241.0 336.3L245.6 336.0L251.0 335.9L256.0 336.0L262.6 336.2L267.0 336.1L271.0 335.7L275.3 334.9L280.7 334.0L284.0 332.7L286.0 331.5L288.8 329.6L290.4 324.2L291.2 318.8L291.8 305.7L292.4 267.4L293.2 269.4L294.3 272.2L294.9 259.5L295.6 254.7L296.0 254.7L296.3 257.8L297.2 265.6L297.7 268.7L298.3 272.3L299.2 275.3L300.4 277.7L301.2 280.8L303.5 283.2L305.0 286.4L307.5 288.3L309.5 287.6L311.6 288.0L312.0 290.7L312.2 284.4L312.6 284.4L312.8 290.7L313.3 283.5L314.0 287.8L315.7 289.7L319.0 292.8L323.9 295.7L325.8 296.0L327.1 294.2L328.2 296.3L329.6 297.0L335.3 299.2L336.8 300.0L337.8 298.8L338.8 300.5L340.0 300.7" stroke="#000" stroke-width="1.25" fill="none" stroke-linejoin="round" stroke-dasharray="7.9 6.6" stroke-dashoffset="2.92"/>
<path d="M340.0 300.7L342.0 302.2L344.0 303.1L346.0 303.9L348.0 304.7L350.0 305.5L352.0 306.3L354.0 307.0L356.0 307.7L358.0 308.4L360.0 309.0L362.0 309.6L364.0 310.2L366.0 310.8L368.0 311.3L370.0 311.9L372.0 312.5L374.0 313.1L376.0 313.7L378.0 314.4L380.0 315.0L382.0 315.6L384.0 316.3L386.0 316.9L388.0 317.4L390.0 318.0L392.0 318.6L394.0 319.1L396.0 319.7L398.0 320.2L400.0 320.8L402.0 321.3L404.0 321.9L406.0 322.5L408.0 323.1L410.0 323.7L412.0 324.2L414.0 324.8L416.0 325.3L418.0 325.8L420.0 326.3L422.0 326.8L424.0 327.3L426.0 327.8L428.0 328.3L430.0 328.8L432.0 329.2L434.0 329.7L436.0 330.1L438.0 330.5L440.0 330.9L442.0 331.3L444.0 331.7L446.0 332.1L448.0 332.4L450.0 332.8L452.0 333.2L454.0 333.6L456.0 334.0L458.0 334.3L460.0 334.7L462.0 335.1L464.0 335.5L466.0 335.9L468.0 336.4L470.0 336.8L472.0 337.2L474.0 337.7L476.0 338.2L478.0 338.8L480.0 339.3L482.0 339.9L484.0 340.4L486.0 341.0L488.0 341.5L490.0 342.0L492.0 342.5L494.0 343.0L496.0 343.4L498.0 343.8L500.0 344.2L502.0 344.6L504.0 345.1L506.0 345.5L508.0 345.9L510.0 346.3L512.0 346.6L514.0 347.0L516.0 347.3L518.0 347.7L520.0 348.0L522.0 348.3L524.0 348.6L526.0 348.9L528.0 349.1L530.0 349.3L532.0 349.4L534.0 349.4L536.0 349.4L538.0 349.3L540.0 349.3L542.0 349.2L544.0 349.1L546.0 349.0L548.0 348.9L550.0 348.7L552.0 348.5L554.0 348.2L556.0 348.0L558.0 347.9L560.0 347.8L562.0 347.7L564.0 347.7L566.0 347.8L568.0 347.8L570.0 347.8L572.0 347.9L574.0 348.0L576.0 348.0L578.0 348.1L580.0 348.2L582.0 348.3L584.0 348.5L586.0 348.7L588.0 348.9L590.0 349.2L592.0 349.4L594.0 349.8L596.0 350.2L598.0 350.6L600.0 351.2L602.0 351.8L604.0 352.6L606.0 353.5L608.0 354.5L610.0 355.5L612.0 356.6L614.0 357.7L616.0 358.8L618.0 360.0L620.0 361.3L622.0 362.6L624.0 364.1L626.0 365.7L628.0 367.5L630.0 369.3L632.0 371.3L634.0 373.5L636.0 375.8L638.0 378.3L640.0 380.9" stroke="#000" stroke-width="1.25" fill="none" stroke-linejoin="round" stroke-dasharray="7.9 6.6" stroke-dashoffset="6.71"/>
<path d="M210.4 355.0L211.2 348.0L212.2 339.9L212.9 337.1L214.1 333.8L215.2 331.3L216.4 334.3L217.4 341.6L218.2 353.3L218.5 368.0L218.7 368.0L219.0 353.9L219.6 349.5L220.3 347.3L222.4 341.6L225.1 338.4L231.4 335.9L235.0 334.9L238.3 334.2L241.0 333.7L245.6 333.4L251.0 333.3L256.0 333.3L262.6 333.6L267.0 333.5L271.0 333.0L275.3 332.1L280.7 330.9L284.0 329.4L286.0 328.1L288.8 325.8L290.4 319.6L291.2 313.4L291.8 298.3L292.4 254.3L293.2 256.5L294.3 259.7L294.9 245.1L295.6 239.5L296.0 239.5L296.3 243.1L297.2 252.1L297.7 255.6L298.3 259.8L299.2 263.4L300.4 266.2L301.2 269.7L303.5 272.6L305.0 276.3L307.5 278.5L309.5 277.7L311.6 278.0L312.0 279.5L312.2 272.0L312.6 272.0L312.8 279.5L313.3 273.1L314.0 278.1L315.7 280.3L319.0 284.0L323.9 287.2L325.8 287.6L327.1 285.5L328.2 288.0L329.6 288.7L335.3 291.3L336.8 292.3L337.8 290.8L338.8 292.9L340.0 293.2" stroke="#f00" stroke-width="1.25" fill="none" stroke-linejoin="round" stroke-dasharray="1.7 3.35" stroke-dashoffset="1.53"/>
<path d="M340.0 293.2L342.0 294.3L344.0 295.5L346.0 296.6L348.0 297.8L350.0 298.9L352.0 299.9L354.0 301.0L356.0 302.1L358.0 303.1L360.0 304.0L362.0 304.8L364.0 305.4L366.0 305.9L368.0 306.5L370.0 307.0L372.0 307.6L374.0 308.3L376.0 309.1L378.0 310.0L380.0 310.9L382.0 311.7L384.0 312.5L386.0 313.2L388.0 313.8L390.0 314.5L392.0 315.1L394.0 315.7L396.0 316.3L398.0 316.9L400.0 317.5L402.0 318.2L404.0 318.8L406.0 319.4L408.0 320.1L410.0 320.9L412.0 321.6L414.0 322.4L416.0 323.1L418.0 323.8L420.0 324.5L422.0 325.1L424.0 325.7L426.0 326.2L428.0 326.8L430.0 327.3L432.0 327.8L434.0 328.3L436.0 328.7L438.0 329.2L440.0 329.6L442.0 330.1L444.0 330.5L446.0 330.9L448.0 331.3L450.0 331.8L452.0 332.2L454.0 332.6L456.0 333.0L458.0 333.5L460.0 333.9L462.0 334.3L464.0 334.8L466.0 335.3L468.0 335.7L470.0 336.2L472.0 336.7L474.0 337.3L476.0 337.8L478.0 338.4L480.0 339.0L482.0 339.7L484.0 340.4L486.0 341.2L488.0 342.0L490.0 342.9L492.0 343.6L494.0 344.4L496.0 345.1L498.0 345.7L500.0 346.1L502.0 346.5L504.0 346.8L506.0 347.1L508.0 347.3L510.0 347.5L512.0 347.7L514.0 348.0L516.0 348.3L518.0 348.6L520.0 349.0L522.0 349.8L524.0 350.9L526.0 351.4L528.0 351.4L530.0 351.4L532.0 351.4L534.0 351.4L536.0 351.4L538.0 351.4L540.0 351.4L542.0 351.3L544.0 351.1L546.0 350.8L548.0 350.5L550.0 350.2L552.0 349.9L554.0 349.7L556.0 349.5L558.0 349.4L560.0 349.4L562.0 349.4L564.0 349.4L566.0 349.4L568.0 349.4L570.0 349.4L572.0 349.4L574.0 349.4L576.0 349.4L578.0 349.5L580.0 349.7L582.0 349.9L584.0 350.2L586.0 350.5L588.0 350.8L590.0 351.2L592.0 351.5L594.0 352.0L596.0 352.6L598.0 353.2L600.0 354.0L602.0 354.7L604.0 355.6L606.0 356.5L608.0 357.5L610.0 358.7L612.0 359.9L614.0 361.2L616.0 362.7L618.0 364.3L620.0 366.0L622.0 367.8L624.0 369.7L626.0 371.8L628.0 374.1L630.0 376.4L632.0 378.9L634.0 381.6L636.0 384.4L638.0 387.3L640.0 390.4" stroke="#f00" stroke-width="1.25" fill="none" stroke-linejoin="round" stroke-dasharray="1.7 3.35" stroke-dashoffset="3.99"/>
<path d="M210.4 355.0L211.2 346.8L212.2 337.2L212.9 334.0L214.1 330.1L215.2 327.1L216.4 330.7L217.4 339.3L218.2 353.0L218.5 370.3L218.7 370.3L219.0 353.7L219.6 348.5L220.3 345.9L222.4 339.3L225.1 335.4L231.4 332.5L235.0 331.4L238.3 330.5L241.0 329.9L245.6 329.5L251.0 329.4L256.0 329.4L262.6 329.7L267.0 329.5L271.0 328.9L275.3 327.8L280.7 326.3L284.0 324.5L286.0 322.8L288.8 320.1L290.4 312.6L291.2 305.1L291.8 287.0L292.4 234.3L293.2 236.9L294.3 240.7L294.9 223.1L295.6 216.3L296.0 216.3L296.3 220.6L297.2 231.5L297.7 235.8L298.3 240.8L299.2 245.2L300.4 248.6L301.2 252.9L303.5 256.4L305.0 261.0L307.5 263.8L309.5 262.9L311.6 262.1L312.0 259.2L312.2 248.8L312.6 248.8L312.8 259.2L313.3 257.5L314.0 263.4L315.7 266.1L319.0 270.5L323.9 274.5L325.8 275.0L327.1 272.6L328.2 275.5L329.6 276.4L335.3 279.6L336.8 280.8L337.8 279.1L338.8 281.5L340.0 281.9L342.0 283.4L344.0 285.1L346.0 286.6L348.0 288.1L350.0 289.4L352.0 290.6L354.0 291.8L356.0 292.9L358.0 294.0L360.0 295.0L362.0 296.1L364.0 297.0L366.0 298.0L368.0 298.9L370.0 299.8L372.0 300.7L374.0 301.5L376.0 302.4L378.0 303.2L380.0 304.1L382.0 304.9L384.0 305.8L386.0 306.7L388.0 307.5L390.0 308.4L392.0 309.3L394.0 310.2L396.0 311.0L398.0 311.9L400.0 312.8L402.0 313.7L404.0 314.6L406.0 315.5L408.0 316.4L410.0 317.3L412.0 318.3L414.0 319.3L416.0 320.2L418.0 321.1L420.0 321.9L422.0 322.6L424.0 323.3L426.0 323.9L428.0 324.5L430.0 325.0L432.0 325.6L434.0 326.1L436.0 326.6L438.0 327.2L440.0 327.7L442.0 328.3L444.0 328.9L446.0 329.4L448.0 330.0L450.0 330.6L452.0 331.2L454.0 331.8L456.0 332.5L458.0 333.2L460.0 333.9L462.0 334.6L464.0 335.2L466.0 335.8L468.0 336.5L470.0 337.1L472.0 337.8L474.0 338.6L476.0 339.4L478.0 340.2L480.0 341.1L482.0 342.0L484.0 342.8L486.0 343.6L488.0 344.4L490.0 345.1L492.0 345.8L494.0 346.4L496.0 347.0L498.0 347.6L500.0 348.1L502.0 348.6L504.0 349.1L506.0 349.5L508.0 349.9L510.0 350.4L512.0 350.8L514.0 351.3L516.0 351.9L518.0 352.5L520.0 352.9L522.0 353.2L524.0 353.5L526.0 353.7L528.0 353.9L530.0 354.0L532.0 354.1L534.0 354.2L536.0 354.2L538.0 354.1L540.0 354.0L542.0 353.7L544.0 353.3L546.0 353.0L548.0 352.6L550.0 352.3L552.0 352.0L554.0 351.7L556.0 351.4L558.0 351.1L560.0 350.9L562.0 350.7L564.0 350.7L566.0 350.6L568.0 350.6L570.0 350.6L572.0 350.5L574.0 350.5L576.0 350.6L578.0 350.8L580.0 351.1L582.0 351.3L584.0 351.7L586.0 352.1L588.0 352.7L590.0 353.5L592.0 354.2L594.0 355.0L596.0 355.9L598.0 356.9L600.0 357.9L602.0 359.1L604.0 360.6L606.0 362.1L608.0 363.8L610.0 365.5L612.0 367.3L614.0 369.1L616.0 371.0L618.0 373.0L620.0 375.1L622.0 377.2L624.0 379.5L626.0 381.8L628.0 384.3L630.0 387.0L632.0 389.8L634.0 392.9L636.0 396.1L638.0 399.6L640.0 403.2" stroke="#0f0" stroke-width="1.25" fill="none" stroke-linejoin="round"/>
<path d="M210.4 354.9L211.2 346.0L212.2 335.5L212.9 331.9L214.1 327.6L215.2 324.4L216.4 328.3L217.4 337.7L218.2 352.8L218.5 371.7L218.7 371.7L219.0 353.5L219.6 347.9L220.3 345.0L222.4 337.7L225.1 333.5L231.4 330.3L235.0 329.1L238.3 328.1L241.0 327.5L245.6 327.0L251.0 326.8L256.0 326.9L262.6 327.1L267.0 326.9L271.0 326.2L275.3 324.9L280.7 323.3L284.0 321.2L286.0 319.3L288.8 316.3L290.4 307.9L291.2 299.6L291.8 279.5L292.4 220.9L293.2 223.7L294.3 227.9L294.9 208.3L295.6 200.8L296.0 200.8L296.3 205.6L297.2 217.7L297.7 222.5L298.3 228.1L299.2 233.0L300.4 236.8L301.2 241.7L303.5 245.7L305.0 250.7L307.5 253.9L309.5 253.0L311.6 252.2L312.0 249.0L312.2 237.6L312.6 237.6L312.8 249.0L313.3 247.1L314.0 253.6L315.7 256.6L319.0 261.5L323.9 266.0L325.8 266.7L327.1 264.0L328.2 267.3L329.6 268.4L335.3 272.0L336.8 273.3L337.8 271.5L338.8 274.1L340.0 274.6" stroke="#00f" stroke-width="1.25" fill="none" stroke-linejoin="round" stroke-dasharray="6.9 3.45 1.7 3.35" stroke-dashoffset="10.42"/>
<path d="M340.0 274.6L342.0 276.1L344.0 277.8L346.0 279.5L348.0 281.1L350.0 282.7L352.0 284.2L354.0 285.6L356.0 287.1L358.0 288.4L360.0 289.7L362.0 291.0L364.0 292.1L366.0 293.2L368.0 294.2L370.0 295.1L372.0 296.1L374.0 297.0L376.0 298.1L378.0 299.2L380.0 300.3L382.0 301.5L384.0 302.7L386.0 303.8L388.0 304.9L390.0 305.9L392.0 306.8L394.0 307.6L396.0 308.5L398.0 309.3L400.0 310.1L402.0 311.0L404.0 312.0L406.0 313.0L408.0 314.0L410.0 315.1L412.0 316.1L414.0 317.1L416.0 318.1L418.0 319.1L420.0 320.2L422.0 321.2L424.0 322.1L426.0 323.1L428.0 324.0L430.0 324.8L432.0 325.6L434.0 326.4L436.0 327.1L438.0 327.8L440.0 328.4L442.0 329.1L444.0 329.7L446.0 330.3L448.0 330.9L450.0 331.5L452.0 332.2L454.0 332.8L456.0 333.4L458.0 334.1L460.0 334.7L462.0 335.4L464.0 336.1L466.0 336.7L468.0 337.4L470.0 338.1L472.0 338.8L474.0 339.6L476.0 340.4L478.0 341.2L480.0 342.2L482.0 343.2L484.0 344.1L486.0 345.0L488.0 345.8L490.0 346.5L492.0 347.2L494.0 347.8L496.0 348.4L498.0 348.9L500.0 349.5L502.0 350.1L504.0 350.7L506.0 351.3L508.0 352.1L510.0 352.8L512.0 353.5L514.0 353.9L516.0 354.3L518.0 354.6L520.0 354.9L522.0 355.3L524.0 355.8L526.0 356.0L528.0 356.0L530.0 355.9L532.0 355.8L534.0 355.7L536.0 355.6L538.0 355.4L540.0 355.2L542.0 355.0L544.0 354.7L546.0 354.3L548.0 353.9L550.0 353.6L552.0 353.3L554.0 353.1L556.0 352.8L558.0 352.5L560.0 352.3L562.0 352.1L564.0 352.0L566.0 352.0L568.0 352.0L570.0 352.1L572.0 352.3L574.0 352.4L576.0 352.6L578.0 352.9L580.0 353.1L582.0 353.5L584.0 354.0L586.0 354.6L588.0 355.2L590.0 355.9L592.0 356.7L594.0 357.6L596.0 358.6L598.0 359.8L600.0 361.0L602.0 362.4L604.0 364.0L606.0 365.8L608.0 367.7L610.0 369.6L612.0 371.6L614.0 373.5L616.0 375.6L618.0 377.8L620.0 380.1L622.0 382.5L624.0 385.1L626.0 387.9L628.0 390.9L630.0 394.1L632.0 397.6L634.0 401.3L636.0 405.3L638.0 409.5L640.0 414.0" stroke="#00f" stroke-width="1.25" fill="none" stroke-linejoin="round" stroke-dasharray="6.9 3.45 1.7 3.35" stroke-dashoffset="2.91"/>
<path d="M210.4 354.9L211.2 344.8L212.2 332.9L212.9 328.9L214.1 324.1L215.2 320.4L216.4 324.8L217.4 335.5L218.2 352.5L218.5 373.9L218.7 373.9L219.0 353.3L219.6 346.9L220.3 343.7L222.4 335.5L225.1 330.7L231.4 327.1L235.0 325.7L238.3 324.6L241.0 323.9L245.6 323.4L251.0 323.1L256.0 323.1L262.6 323.4L267.0 323.1L271.0 322.2L275.3 320.8L280.7 318.8L284.0 316.3L286.0 314.2L288.8 310.6L290.4 300.9L291.2 291.4L291.8 268.3L292.4 200.9L293.2 204.1L294.3 208.8L294.9 186.2L295.6 177.4L296.0 177.4L296.3 183.0L297.2 197.0L297.7 202.6L298.3 209.1L299.2 214.8L300.4 219.3L301.2 224.9L303.5 229.6L305.0 235.5L307.5 239.3L309.5 238.3L311.6 236.0L312.0 226.4L312.2 211.7L312.6 211.7L312.8 226.4L313.3 231.5L314.0 239.0L315.7 242.4L319.0 248.0L323.9 253.5L325.8 254.4L327.1 251.5L328.2 255.2L329.6 256.6L335.3 261.1L336.8 262.5L337.8 260.4L338.8 263.4L340.0 263.9" stroke="#000" stroke-width="1.25" fill="none" stroke-linejoin="round" stroke-dasharray="6.9 3.45 1.7 3.45 1.7 3.45 1.7 3.45" stroke-dashoffset="12.45"/>
<path d="M340.0 263.9L342.0 266.4L344.0 268.3L346.0 270.1L348.0 271.9L350.0 273.7L352.0 275.4L354.0 277.1L356.0 278.8L358.0 280.5L360.0 282.0L362.0 283.4L364.0 284.7L366.0 286.0L368.0 287.3L370.0 288.6L372.0 290.1L374.0 291.6L376.0 293.1L378.0 294.5L380.0 295.9L382.0 297.2L384.0 298.3L386.0 299.4L388.0 300.5L390.0 301.6L392.0 302.7L394.0 303.9L396.0 305.0L398.0 306.1L400.0 307.3L402.0 308.5L404.0 309.8L406.0 311.1L408.0 312.4L410.0 313.7L412.0 315.0L414.0 316.4L416.0 317.8L418.0 319.1L420.0 320.3L422.0 321.3L424.0 322.3L426.0 323.2L428.0 324.1L430.0 325.0L432.0 325.8L434.0 326.6L436.0 327.4L438.0 328.1L440.0 328.9L442.0 329.6L444.0 330.3L446.0 331.0L448.0 331.7L450.0 332.4L452.0 333.1L454.0 333.8L456.0 334.5L458.0 335.2L460.0 335.9L462.0 336.7L464.0 337.4L466.0 338.0L468.0 338.7L470.0 339.4L472.0 340.1L474.0 340.9L476.0 341.7L478.0 342.7L480.0 343.9L482.0 345.2L484.0 346.4L486.0 347.4L488.0 348.3L490.0 349.1L492.0 349.8L494.0 350.6L496.0 351.3L498.0 352.1L500.0 353.0L502.0 353.9L504.0 354.8L506.0 355.6L508.0 356.3L510.0 357.0L512.0 357.6L514.0 358.2L516.0 358.7L518.0 359.2L520.0 359.6L522.0 360.1L524.0 360.5L526.0 360.9L528.0 361.1L530.0 361.2L532.0 361.1L534.0 360.8L536.0 360.4L538.0 359.9L540.0 359.4L542.0 358.8L544.0 358.3L546.0 357.9L548.0 357.4L550.0 356.9L552.0 356.4L554.0 356.0L556.0 355.6L558.0 355.4L560.0 355.3L562.0 355.2L564.0 355.1L566.0 355.0L568.0 355.0L570.0 355.1L572.0 355.2L574.0 355.3L576.0 355.6L578.0 355.8L580.0 356.1L582.0 356.7L584.0 357.3L586.0 358.1L588.0 358.9L590.0 359.6L592.0 360.5L594.0 361.5L596.0 362.8L598.0 364.2L600.0 365.7L602.0 367.3L604.0 369.0L606.0 370.7L608.0 372.5L610.0 374.5L612.0 376.6L614.0 378.8L616.0 381.3L618.0 384.0L620.0 386.9L622.0 389.9L624.0 392.9L626.0 395.9L628.0 399.1L630.0 402.6L632.0 406.5L634.0 410.9L636.0 415.7L638.0 421.0L640.0 426.5" stroke="#000" stroke-width="1.25" fill="none" stroke-linejoin="round" stroke-dasharray="6.9 3.45 1.7 3.45 1.7 3.45 1.7 3.45" stroke-dashoffset="12.11"/>
<path d="M210.4 354.9L211.2 343.0L212.2 329.0L212.9 324.3L214.1 318.6L215.2 314.3L216.4 319.5L217.4 332.0L218.2 352.0L218.5 377.2L218.7 377.2L219.0 353.0L219.6 345.5L220.3 341.7L222.4 332.0L225.1 326.4L231.4 322.2L235.0 320.5L238.3 319.2L241.0 318.4L245.6 317.8L251.0 317.4L256.0 317.3L262.6 317.5L267.0 317.1L271.0 316.0L275.3 314.2L280.7 311.6L284.0 308.5L286.0 305.8L288.8 301.4L290.4 289.6L291.2 278.0L291.8 250.0L292.4 168.3L293.2 172.0L294.3 177.5L294.9 150.0L295.6 139.2L296.0 139.2L296.3 146.0L297.2 163.2L297.7 170.0L298.3 178.0L299.2 185.0L300.4 190.6L301.2 197.5L303.5 203.5L305.0 210.8L307.5 215.7L309.5 214.5L311.6 211.6L312.0 200.0L312.2 182.3L312.6 182.3L312.8 200.0L313.3 206.0L314.0 215.0L315.7 219.0L319.0 225.5L323.9 233.3L325.8 234.8L327.1 231.6L328.2 236.3L329.6 238.2L335.3 244.7L336.8 246.2L337.8 243.6L338.8 247.0L340.0 247.4" stroke="#f00" stroke-width="1.25" fill="none" stroke-linejoin="round" stroke-dasharray="7.9 6.6" stroke-dashoffset="0.88"/>
<path d="M340.0 247.4L342.0 249.8L344.0 252.2L346.0 254.6L348.0 256.9L350.0 259.3L352.0 261.7L354.0 264.2L356.0 266.7L358.0 269.1L360.0 271.5L362.0 273.5L364.0 275.3L366.0 277.0L368.0 278.7L370.0 280.3L372.0 281.9L374.0 283.6L376.0 285.3L378.0 287.0L380.0 288.7L382.0 290.5L384.0 292.2L386.0 294.0L388.0 295.9L390.0 297.8L392.0 299.6L394.0 301.4L396.0 303.0L398.0 304.6L400.0 306.2L402.0 307.7L404.0 309.2L406.0 310.7L408.0 312.3L410.0 313.9L412.0 315.5L414.0 317.1L416.0 318.5L418.0 319.8L420.0 321.0L422.0 322.0L424.0 323.0L426.0 323.9L428.0 324.8L430.0 325.8L432.0 326.9L434.0 328.1L436.0 329.3L438.0 330.5L440.0 331.6L442.0 332.5L444.0 333.3L446.0 334.1L448.0 334.8L450.0 335.6L452.0 336.3L454.0 337.0L456.0 337.8L458.0 338.7L460.0 339.6L462.0 340.6L464.0 341.7L466.0 342.8L468.0 344.0L470.0 345.1L472.0 346.3L474.0 347.4L476.0 348.5L478.0 349.5L480.0 350.6L482.0 351.7L484.0 352.8L486.0 353.9L488.0 355.1L490.0 356.3L492.0 357.5L494.0 358.6L496.0 359.7L498.0 360.6L500.0 361.4L502.0 362.1L504.0 362.7L506.0 363.4L508.0 364.1L510.0 364.8L512.0 365.5L514.0 366.1L516.0 366.8L518.0 367.4L520.0 368.0L522.0 368.3L524.0 368.4L526.0 368.3L528.0 368.1L530.0 367.7L532.0 367.3L534.0 366.9L536.0 366.5L538.0 366.1L540.0 365.6L542.0 365.1L544.0 364.5L546.0 363.9L548.0 363.4L550.0 362.9L552.0 362.5L554.0 362.2L556.0 362.0L558.0 361.7L560.0 361.5L562.0 361.3L564.0 361.2L566.0 361.2L568.0 361.3L570.0 361.5L572.0 361.8L574.0 362.1L576.0 362.5L578.0 363.0L580.0 363.5L582.0 364.3L584.0 365.3L586.0 366.5L588.0 367.7L590.0 368.9L592.0 370.2L594.0 371.7L596.0 373.2L598.0 374.9L600.0 376.6L602.0 378.4L604.0 380.2L606.0 382.0L608.0 384.0L610.0 386.2L612.0 388.6L614.0 391.5L616.0 394.7L618.0 398.2L620.0 401.9L622.0 405.7L624.0 409.4L626.0 413.2L628.0 417.2L630.0 421.4L632.0 426.0L634.0 430.8L636.0 436.0L638.0 441.4L640.0 447.1" stroke="#f00" stroke-width="1.25" fill="none" stroke-linejoin="round" stroke-dasharray="7.9 6.6" stroke-dashoffset="11.68"/>
<defs><clipPath id="lc"><rect x="60" y="565" width="60" height="31.4"/></clipPath></defs>
<g clip-path="url(#lc)" fill="none" stroke="#222">
<circle cx="86.2" cy="586.0" r="13.8" stroke-width="0.95" stroke="#111"/>
<circle cx="86.2" cy="586.0" r="12.0" stroke-width="0.7" stroke="#222"/>
<circle cx="86.2" cy="586.0" r="10.0" stroke-width="1.5" stroke="#4a4a4a" stroke-dasharray="1.6 0.3"/>
<circle cx="86.2" cy="586.0" r="7.2" stroke-width="1.0" stroke="#111"/>
</g>
<g transform="translate(86.2 586.0) rotate(45)"><rect x="-11.0" y="-1.1" width="22.0" height="2.2" fill="#fff" stroke="#111" stroke-width="0.7"/></g>
<g transform="translate(86.2 586.0) rotate(-45)"><rect x="-11.0" y="-1.1" width="22.0" height="2.2" fill="#fff" stroke="#111" stroke-width="0.7"/></g>
<path d="M79.60 596.0L75.40 600.9M82.24 596.0L79.72 600.9M84.88 596.0L84.04 600.9M87.52 596.0L88.36 600.9M90.16 596.0L92.68 600.9M92.80 596.0L97.00 600.9M78.40 597.4H94.00M77.03 599.0H95.37M75.49 600.8H96.91" fill="none" stroke="#444" stroke-width="0.5"/><g font-family="Liberation Sans, sans-serif" font-size="15" fill="#000" stroke="#fff" stroke-width="0.18" style="filter:grayscale(1)">
<text x="72.3" y="46.8" textLength="49.3">Ir Edge</text>
<text x="510.0" y="46.8" textLength="181.0">Effect of Contamination on</text>
<text x="696.0" y="46.8" font-family="Liberation Serif, serif" font-style="italic" font-size="15.8" stroke="none">A</text>
<text x="705.8" y="49.6" font-family="Liberation Serif, serif" font-style="italic" font-size="11.8" stroke="none">eff</text>
<text x="103.3" y="593.8" textLength="223.3">2004 CXC Calibration Workshop</text>
<text x="572.2" y="593.8" textLength="116.4">27 October 2004</text>
<text x="693.2" y="593.8" textLength="26.8" font-size="10.3" stroke="none">14/24</text>
</g></svg>
</body></html>
